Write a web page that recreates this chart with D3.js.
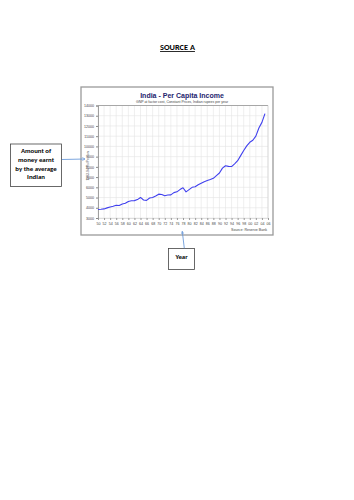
<!DOCTYPE html>
<html><head><meta charset="utf-8">
<script src="https://cdn.jsdelivr.net/npm/d3@7"></script>
<style>html,body{margin:0;padding:0;background:#fff;}svg{display:block;}</style>
</head><body>
<svg id="c" width="354" height="500"></svg>
<script>
const years = d3.range(1950, 2006);
const income = [3830,3850,3890,3990,4080,4150,4250,4220,4370,4450,
  4620,4680,4700,4800,5010,4760,4720,4960,5010,5150,
  5330,5300,5170,5250,5260,5480,5560,5780,5960,5560,
  5780,6000,6050,6250,6400,6550,6660,6760,6880,7150,
  7400,7880,8110,8050,8030,8300,8600,9100,9600,10050,
  10400,10600,11000,11800,12350,13200];
const yTicks = [3000,4000,5000,6000,7000,8000,9000,10000,11000,12000,13000,14000];
const xTicks = d3.range(1950, 2007, 2);
const xTickLabels = xTicks.map(y => String(y % 100).padStart(2, "0"));

const svg = d3.select("#c");

// Page heading
svg.append("text").attr("x",177.5).attr("y",50).attr("text-anchor","middle")
  .attr("font-family","Carlito, 'Liberation Sans', Arial, sans-serif").attr("font-weight","bold")
  .attr("font-size",8.3).attr("fill","#000").attr("text-decoration","underline").text("SOURCE A");

// Chart frame
svg.append("rect").attr("x",81).attr("y",87).attr("width",192).attr("height",148)
  .attr("fill","#fff").attr("stroke","#9a9a9a").attr("stroke-width",1.3);

const L=98, R=268, T=105.5, B=218;
const x = d3.scaleLinear().domain([1950,2006]).range([L,R]);
const y = d3.scaleLinear().domain([3000,14000]).range([B,T]);

const g = svg.append("g");
g.selectAll("line.vg").data(xTicks).join("line")
  .attr("x1",d=>x(d)).attr("x2",d=>x(d)).attr("y1",T).attr("y2",B)
  .attr("stroke","#e4e4e4").attr("stroke-width",0.6);
g.selectAll("line.hg").data(yTicks).join("line")
  .attr("x1",L).attr("x2",R).attr("y1",d=>y(d)).attr("y2",d=>y(d))
  .attr("stroke","#e4e4e4").attr("stroke-width",0.6);
g.append("line").attr("x1",L).attr("x2",R).attr("y1",T).attr("y2",T).attr("stroke","#888").attr("stroke-width",0.7);
g.append("line").attr("x1",R).attr("x2",R).attr("y1",T).attr("y2",B).attr("stroke","#ccc").attr("stroke-width",0.6);

const yAxis = d3.axisLeft(y).tickValues(yTicks).tickFormat(d3.format("d")).tickSize(2).tickPadding(2);
const ya = svg.append("g").attr("transform",`translate(${L},0)`).call(yAxis);
ya.selectAll("text").attr("font-size",3.6).attr("font-family","'Liberation Sans', Arial, sans-serif").attr("fill","#444");
ya.selectAll("line").attr("stroke","#888");
ya.select(".domain").attr("stroke","#888").attr("stroke-width",0.8);

const xAxis = d3.axisBottom(x).tickValues(xTicks).tickFormat((d,i)=>xTickLabels[i]).tickSize(2).tickPadding(2.5);
const xa = svg.append("g").attr("transform",`translate(0,${B})`).call(xAxis);
xa.selectAll("text").attr("font-size",3.6).attr("font-family","'Liberation Sans', Arial, sans-serif").attr("fill","#444");
xa.selectAll("line").attr("stroke","#999");
xa.select(".domain").attr("stroke","#ccc").attr("stroke-width",0.6);

svg.append("text").attr("transform","translate(89,166) rotate(-90)").attr("text-anchor","middle")
  .attr("font-size",3.4).attr("font-family","'Liberation Sans', Arial, sans-serif").attr("fill","#555")
  .text("1993-94 Rs/Person");

svg.append("text").attr("x",182).attr("y",98).attr("text-anchor","middle")
  .attr("font-family","'Liberation Sans', Arial, sans-serif").attr("font-weight","bold")
  .attr("font-size",7).attr("fill","#24246e").text("India - Per Capita Income");
svg.append("text").attr("x",182).attr("y",102.6).attr("text-anchor","middle")
  .attr("font-family","'Liberation Sans', Arial, sans-serif")
  .attr("font-size",3.5).attr("fill","#444").text("GNP at factor cost, Constant Prices, Indian rupees per year");
svg.append("text").attr("x",267).attr("y",230.5).attr("text-anchor","end")
  .attr("font-family","'Liberation Sans', Arial, sans-serif")
  .attr("font-size",3.6).attr("fill","#444").text("Source: Reserve Bank");

const line = d3.line().x((d,i)=>x(years[i])).y(d=>y(d));
svg.append("path").datum(income).attr("d",line).attr("fill","none")
  .attr("stroke","#4040ee").attr("stroke-width",1.1).attr("stroke-linejoin","round");

const defs = svg.append("defs");
defs.append("marker").attr("id","ah").attr("viewBox","0 0 10 10").attr("refX",9).attr("refY",5)
  .attr("markerWidth",4).attr("markerHeight",4).attr("orient","auto")
  .append("path").attr("d","M0,0 L10,5 L0,10").attr("fill","none").attr("stroke","#5b8fd6").attr("stroke-width",1.6);

svg.append("rect").attr("x",10.5).attr("y",144).attr("width",51).attr("height",42.5)
  .attr("fill","#fff").attr("stroke","#444").attr("stroke-width",0.8);
const lines1 = ["Amount of","money earnt","by the average","Indian"];
svg.selectAll("text.a1").data(lines1).join("text")
  .attr("x",36).attr("y",(d,i)=>153+i*8.8).attr("text-anchor","middle")
  .attr("font-family","Carlito, 'Liberation Sans', Arial, sans-serif").attr("font-weight","bold")
  .attr("font-size",6.8).attr("fill","#000").text(d=>d);
svg.append("line").attr("x1",62).attr("y1",159.5).attr("x2",85).attr("y2",159)
  .attr("stroke","#5b8fd6").attr("stroke-width",0.8).attr("marker-end","url(#ah)");

svg.append("rect").attr("x",168.5).attr("y",248.5).attr("width",26).attr("height",21)
  .attr("fill","#fff").attr("stroke","#444").attr("stroke-width",0.8);
svg.append("text").attr("x",181.5).attr("y",259).attr("text-anchor","middle")
  .attr("font-family","Carlito, 'Liberation Sans', Arial, sans-serif").attr("font-weight","bold")
  .attr("font-size",6.8).attr("fill","#000").text("Year");
svg.append("line").attr("x1",184.3).attr("y1",248.3).attr("x2",182.3).attr("y2",231.5)
  .attr("stroke","#5b8fd6").attr("stroke-width",0.8).attr("marker-end","url(#ah)");
</script>
</body></html>
